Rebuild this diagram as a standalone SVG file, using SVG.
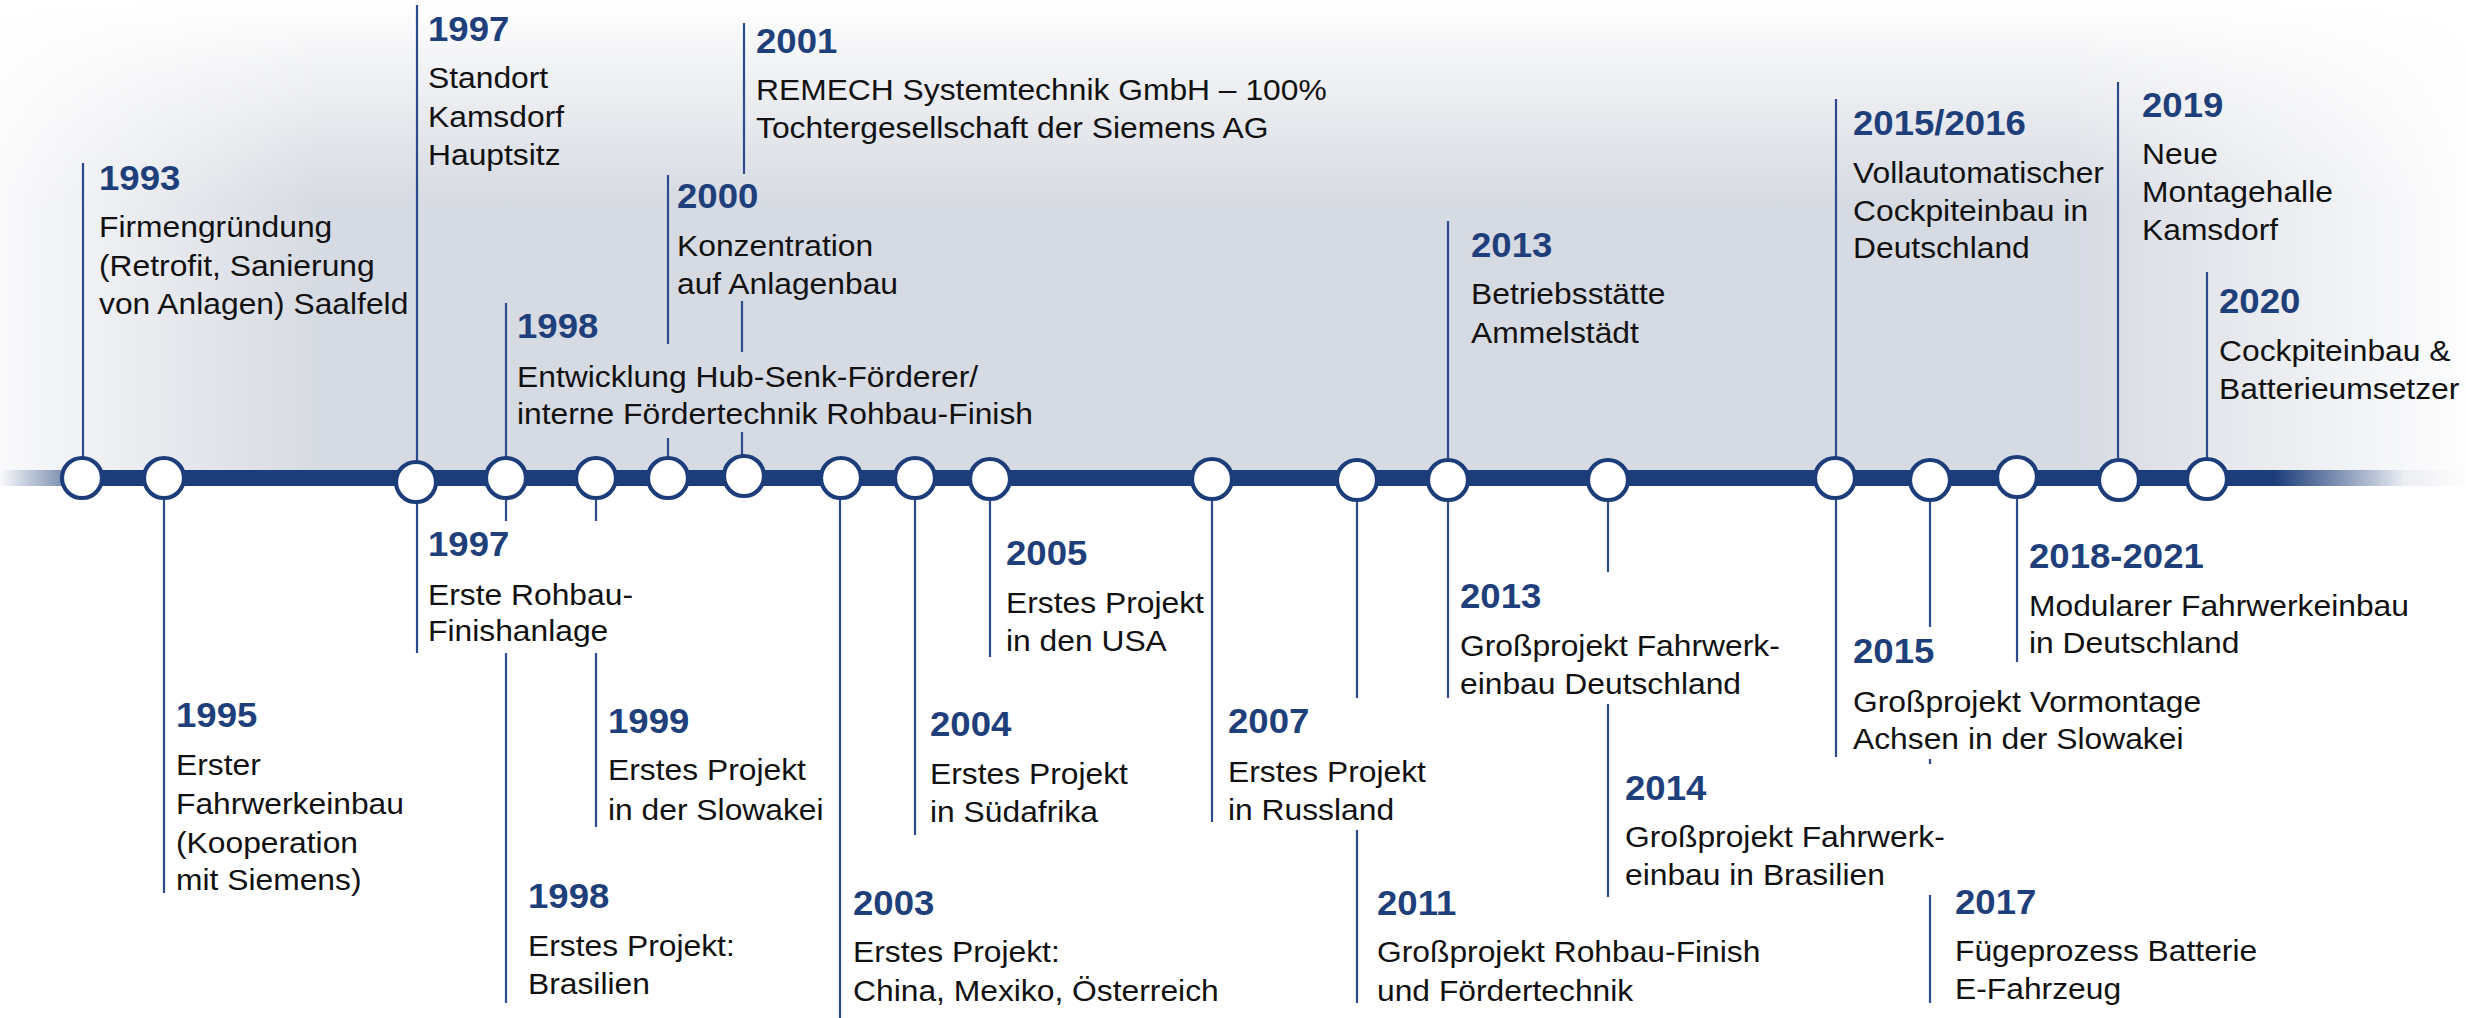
<svg xmlns="http://www.w3.org/2000/svg" width="2466" height="1018" viewBox="0 0 2466 1018">
<defs>
<style>
.yr{font-family:"Liberation Sans",Arial,sans-serif;font-weight:bold;font-size:34.5px;fill:#1f3f7b}
.tx{font-family:"Liberation Sans",Arial,sans-serif;font-size:30px;fill:#111}
.ln{stroke:#2d4b8b;stroke-width:2.2;fill:none}
.dot{fill:#fff;stroke:#1c3d7a;stroke-width:4.2}
</style>
<linearGradient id="bgV" x1="0" y1="0" x2="0" y2="1">
<stop offset="0" stop-color="#ffffff"/>
<stop offset="0.12" stop-color="#f3f4f6"/>
<stop offset="0.42" stop-color="#d6dae2"/>
<stop offset="1" stop-color="#d6dae2"/>
</linearGradient>
<linearGradient id="bgH" x1="0" y1="0" x2="1" y2="0">
<stop offset="0" stop-color="#fff" stop-opacity="0.15"/>
<stop offset="0.13" stop-color="#fff" stop-opacity="1"/>
<stop offset="0.84" stop-color="#fff" stop-opacity="1"/>
<stop offset="1" stop-color="#fff" stop-opacity="0.05"/>
</linearGradient>
<mask id="bgMask" maskUnits="userSpaceOnUse" x="0" y="0" width="2466" height="486">
<rect x="0" y="0" width="2466" height="486" fill="url(#bgH)"/>
</mask>
<linearGradient id="barG" x1="0" y1="0" x2="2466" y2="0" gradientUnits="userSpaceOnUse">
<stop offset="0" stop-color="#1c3d7a" stop-opacity="0"/>
<stop offset="0.004" stop-color="#1c3d7a" stop-opacity="0.08"/>
<stop offset="0.026" stop-color="#1c3d7a" stop-opacity="0.55"/>
<stop offset="0.03" stop-color="#1c3d7a" stop-opacity="1"/>
<stop offset="0.922" stop-color="#1c3d7a" stop-opacity="1"/>
<stop offset="0.975" stop-color="#1c3d7a" stop-opacity="0.05"/>
<stop offset="1" stop-color="#1c3d7a" stop-opacity="0"/>
</linearGradient>
</defs>

<rect x="0" y="0" width="2466" height="1018" fill="#fff"/>
<rect x="0" y="0" width="2466" height="486" fill="url(#bgV)" mask="url(#bgMask)"/>

<g id="connectors" class="ln">
<line x1="83" y1="163" x2="83" y2="458"/>
<line x1="164" y1="499" x2="164" y2="893"/>
<line x1="417" y1="5" x2="417" y2="463"/>
<line x1="417" y1="503" x2="417" y2="653"/>
<line x1="506" y1="303" x2="506" y2="458"/>
<line x1="506" y1="499" x2="506" y2="521"/>
<line x1="506" y1="653" x2="506" y2="1003"/>
<line x1="596" y1="499" x2="596" y2="521"/>
<line x1="596" y1="653" x2="596" y2="827"/>
<line x1="668" y1="175" x2="668" y2="344"/>
<line x1="668" y1="438" x2="668" y2="458"/>
<line x1="744" y1="23" x2="744" y2="174"/>
<line x1="742" y1="301" x2="742" y2="352"/>
<line x1="742" y1="432" x2="742" y2="458"/>
<line x1="840" y1="499" x2="840" y2="1018"/>
<line x1="915" y1="499" x2="915" y2="835"/>
<line x1="990" y1="499" x2="990" y2="657"/>
<line x1="1212" y1="499" x2="1212" y2="822"/>
<line x1="1357" y1="499" x2="1357" y2="698"/>
<line x1="1357" y1="830" x2="1357" y2="1003"/>
<line x1="1448" y1="221" x2="1448" y2="458"/>
<line x1="1448" y1="499" x2="1448" y2="698"/>
<line x1="1608" y1="499" x2="1608" y2="572"/>
<line x1="1608" y1="704" x2="1608" y2="897"/>
<line x1="1836" y1="99" x2="1836" y2="458"/>
<line x1="1836" y1="499" x2="1836" y2="757"/>
<line x1="1930" y1="499" x2="1930" y2="627"/>
<line x1="1930" y1="759" x2="1930" y2="764"/>
<line x1="1930" y1="895" x2="1930" y2="1003"/>
<line x1="2017" y1="499" x2="2017" y2="662"/>
<line x1="2118" y1="82" x2="2118" y2="458"/>
<line x1="2207" y1="272" x2="2207" y2="458"/>
</g>

<g id="timeline-bar">
<rect x="0" y="470" width="2466" height="16" fill="url(#barG)"/>
</g>

<g id="node-1993">
<circle class="dot" cx="82" cy="478" r="20"/>
<g transform="translate(99 0) scale(1.06 1)">
<text class="yr" y="190">1993</text>
<text class="tx" y="237">Firmengründung</text>
<text class="tx" y="276">(Retrofit, Sanierung</text>
<text class="tx" y="314">von Anlagen) Saalfeld</text>
</g>
</g>

<g id="node-1995">
<circle class="dot" cx="164" cy="478" r="20"/>
<g transform="translate(176 0) scale(1.06 1)">
<text class="yr" y="727">1995</text>
<text class="tx" y="775">Erster</text>
<text class="tx" y="814">Fahrwerkeinbau</text>
<text class="tx" y="853">(Kooperation</text>
<text class="tx" y="890">mit Siemens)</text>
</g>
</g>

<g id="node-1997">
<circle class="dot" cx="416" cy="482" r="20"/>
<g transform="translate(428 0) scale(1.06 1)">
<text class="yr" y="41">1997</text>
<text class="tx" y="88">Standort</text>
<text class="tx" y="127">Kamsdorf</text>
<text class="tx" y="165">Hauptsitz</text>
<text class="yr" y="556">1997</text>
<text class="tx" y="605">Erste Rohbau-</text>
<text class="tx" y="641">Finishanlage</text>
</g>
</g>

<g id="node-1998">
<circle class="dot" cx="506" cy="478" r="20"/>
<g transform="translate(517 0) scale(1.06 1)">
<text class="yr" y="338">1998</text>
<text class="tx" y="387">Entwicklung Hub-Senk-Förderer/</text>
<text class="tx" y="424">interne Fördertechnik Rohbau-Finish</text>
</g>
<g transform="translate(528 0) scale(1.06 1)">
<text class="yr" y="908">1998</text>
<text class="tx" y="956">Erstes Projekt:</text>
<text class="tx" y="994">Brasilien</text>
</g>
</g>

<g id="node-1999">
<circle class="dot" cx="596" cy="478" r="20"/>
<g transform="translate(608 0) scale(1.06 1)">
<text class="yr" y="733">1999</text>
<text class="tx" y="780">Erstes Projekt</text>
<text class="tx" y="820">in der Slowakei</text>
</g>
</g>

<g id="node-2000">
<circle class="dot" cx="668" cy="478" r="20"/>
<g transform="translate(677 0) scale(1.06 1)">
<text class="yr" y="208">2000</text>
<text class="tx" y="256">Konzentration</text>
<text class="tx" y="294">auf Anlagenbau</text>
</g>
</g>

<g id="node-2001">
<circle class="dot" cx="744" cy="476" r="20"/>
<g transform="translate(756 0) scale(1.06 1)">
<text class="yr" y="53">2001</text>
<text class="tx" y="100">REMECH Systemtechnik GmbH – 100%</text>
<text class="tx" y="138">Tochtergesellschaft der Siemens AG</text>
</g>
</g>

<g id="node-2003">
<circle class="dot" cx="841" cy="478" r="20"/>
<g transform="translate(853 0) scale(1.06 1)">
<text class="yr" y="915">2003</text>
<text class="tx" y="962">Erstes Projekt:</text>
<text class="tx" y="1001">China, Mexiko, Österreich</text>
</g>
</g>

<g id="node-2004">
<circle class="dot" cx="915" cy="478" r="20"/>
<g transform="translate(930 0) scale(1.06 1)">
<text class="yr" y="736">2004</text>
<text class="tx" y="784">Erstes Projekt</text>
<text class="tx" y="822">in Südafrika</text>
</g>
</g>

<g id="node-2005">
<circle class="dot" cx="990" cy="479" r="20"/>
<g transform="translate(1006 0) scale(1.06 1)">
<text class="yr" y="565">2005</text>
<text class="tx" y="613">Erstes Projekt</text>
<text class="tx" y="651">in den USA</text>
</g>
</g>

<g id="node-2007">
<circle class="dot" cx="1212" cy="479" r="20"/>
<g transform="translate(1228 0) scale(1.06 1)">
<text class="yr" y="733">2007</text>
<text class="tx" y="782">Erstes Projekt</text>
<text class="tx" y="820">in Russland</text>
</g>
</g>

<g id="node-2011">
<circle class="dot" cx="1357" cy="480" r="20"/>
<g transform="translate(1377 0) scale(1.06 1)">
<text class="yr" y="915">2011</text>
<text class="tx" y="962">Großprojekt Rohbau-Finish</text>
<text class="tx" y="1001">und Fördertechnik</text>
</g>
</g>

<g id="node-2013">
<circle class="dot" cx="1448" cy="480" r="20"/>
<g transform="translate(1471 0) scale(1.06 1)">
<text class="yr" y="257">2013</text>
<text class="tx" y="304">Betriebsstätte</text>
<text class="tx" y="343">Ammelstädt</text>
</g>
<g transform="translate(1460 0) scale(1.06 1)">
<text class="yr" y="608">2013</text>
<text class="tx" y="656">Großprojekt Fahrwerk-</text>
<text class="tx" y="694">einbau Deutschland</text>
</g>
</g>

<g id="node-2014">
<circle class="dot" cx="1608" cy="480" r="20"/>
<g transform="translate(1625 0) scale(1.06 1)">
<text class="yr" y="800">2014</text>
<text class="tx" y="847">Großprojekt Fahrwerk-</text>
<text class="tx" y="885">einbau in Brasilien</text>
</g>
</g>

<g id="node-2015-2016">
<circle class="dot" cx="1835" cy="478" r="20"/>
<g transform="translate(1853 0) scale(1.06 1)">
<text class="yr" y="135">2015/2016</text>
<text class="tx" y="183">Vollautomatischer</text>
<text class="tx" y="221">Cockpiteinbau in</text>
<text class="tx" y="258">Deutschland</text>
<text class="yr" y="663">2015</text>
<text class="tx" y="712">Großprojekt Vormontage</text>
<text class="tx" y="749">Achsen in der Slowakei</text>
</g>
</g>

<g id="node-2017">
<circle class="dot" cx="1930" cy="480" r="20"/>
<g transform="translate(1955 0) scale(1.06 1)">
<text class="yr" y="914">2017</text>
<text class="tx" y="961">Fügeprozess Batterie</text>
<text class="tx" y="999">E-Fahrzeug</text>
</g>
</g>

<g id="node-2018-2021">
<circle class="dot" cx="2017" cy="477" r="20"/>
<g transform="translate(2029 0) scale(1.06 1)">
<text class="yr" y="568">2018-2021</text>
<text class="tx" y="616">Modularer Fahrwerkeinbau</text>
<text class="tx" y="653">in Deutschland</text>
</g>
</g>

<g id="node-2019">
<circle class="dot" cx="2119" cy="480" r="20"/>
<g transform="translate(2142 0) scale(1.06 1)">
<text class="yr" y="117">2019</text>
<text class="tx" y="164">Neue</text>
<text class="tx" y="202">Montagehalle</text>
<text class="tx" y="240">Kamsdorf</text>
</g>
</g>

<g id="node-2020">
<circle class="dot" cx="2207" cy="479" r="20"/>
<g transform="translate(2219 0) scale(1.06 1)">
<text class="yr" y="313">2020</text>
<text class="tx" y="361">Cockpiteinbau &amp;</text>
<text class="tx" y="399">Batterieumsetzer</text>
</g>
</g>
</svg>
